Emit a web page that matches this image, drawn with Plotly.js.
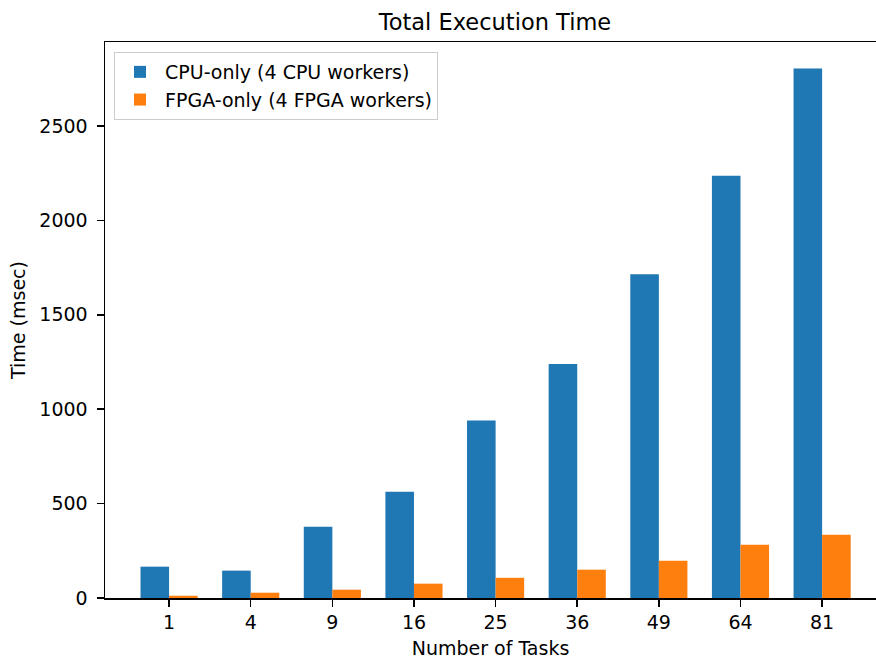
<!DOCTYPE html>
<html>
<head>
<meta charset="utf-8">
<script src="https://cdn.plot.ly/plotly-3.0.1.min.js"></script>
<style>html,body{margin:0;padding:0;background:#fff;}#chart{width:876px;height:659px;}</style>
</head>
<body>
<div id="chart"></div>
<script>
const categories = ["1", "4", "9", "16", "25", "36", "49", "64", "81"];
const cpuOnly = [166, 145, 378, 563, 940, 1240, 1715, 2237, 2805];
const fpgaOnly = [12, 28, 44, 76, 107, 150, 197, 282, 335];
const seriesNames = ["CPU-only (4 CPU workers)", "FPGA-only (4 FPGA workers)"];
const yTicks = [0, 500, 1000, 1500, 2000, 2500];

const font = {family: "DejaVu Sans, sans-serif", size: 19, color: "#000"};
const traces = [
  {type: "bar", x: categories, y: cpuOnly, name: seriesNames[0], marker: {color: "#1f77b4", line: {width: 0}}},
  {type: "bar", x: categories, y: fpgaOnly, name: seriesNames[1], marker: {color: "#ff7f0e", line: {width: 0}}}
];
const layout = {
  width: 876, height: 659,
  margin: {l: 105, r: 0, t: 42, b: 61, pad: 0},
  paper_bgcolor: "#fff", plot_bgcolor: "#fff",
  font: font,
  barmode: "group", bargap: 0.3, bargroupgap: 0,
  title: {text: "Total Execution Time", font: {family: font.family, size: 22.5, color: "#000"}, x: 495/876, xanchor: "center", y: 1 - 22/659, yanchor: "middle"},
  xaxis: {
    type: "category", range: [-0.785, 8.66],
    showline: true, linecolor: "#000", linewidth: 1.5, mirror: true,
    ticks: "outside", ticklen: 7, tickwidth: 1.5, tickcolor: "#000",
    showgrid: false, zeroline: false, tickfont: font,
    title: {text: "Number of Tasks", font: font, standoff: 9}
  },
  yaxis: {
    range: [0, 2945], tickvals: yTicks, ticktext: yTicks.map(String),
    showline: true, linecolor: "#000", linewidth: 1.5, mirror: false,
    ticks: "outside", ticklen: 7, tickwidth: 1.5, tickcolor: "#000",
    ticklabelstandoff: 5,
    showgrid: false, zeroline: false, tickfont: font,
    title: {text: "Time (msec)", font: font, standoff: 8}
  },
  legend: {x: 0.0117, y: 0.982, xanchor: "left", yanchor: "top", bgcolor: "rgba(255,255,255,0.8)", bordercolor: "#ccc", borderwidth: 1, font: font, itemwidth: 40, tracegroupgap: 0},
  showlegend: true
};
Plotly.newPlot("chart", traces, layout, {displayModeBar: false, staticPlot: true});
</script>
</body>
</html>
